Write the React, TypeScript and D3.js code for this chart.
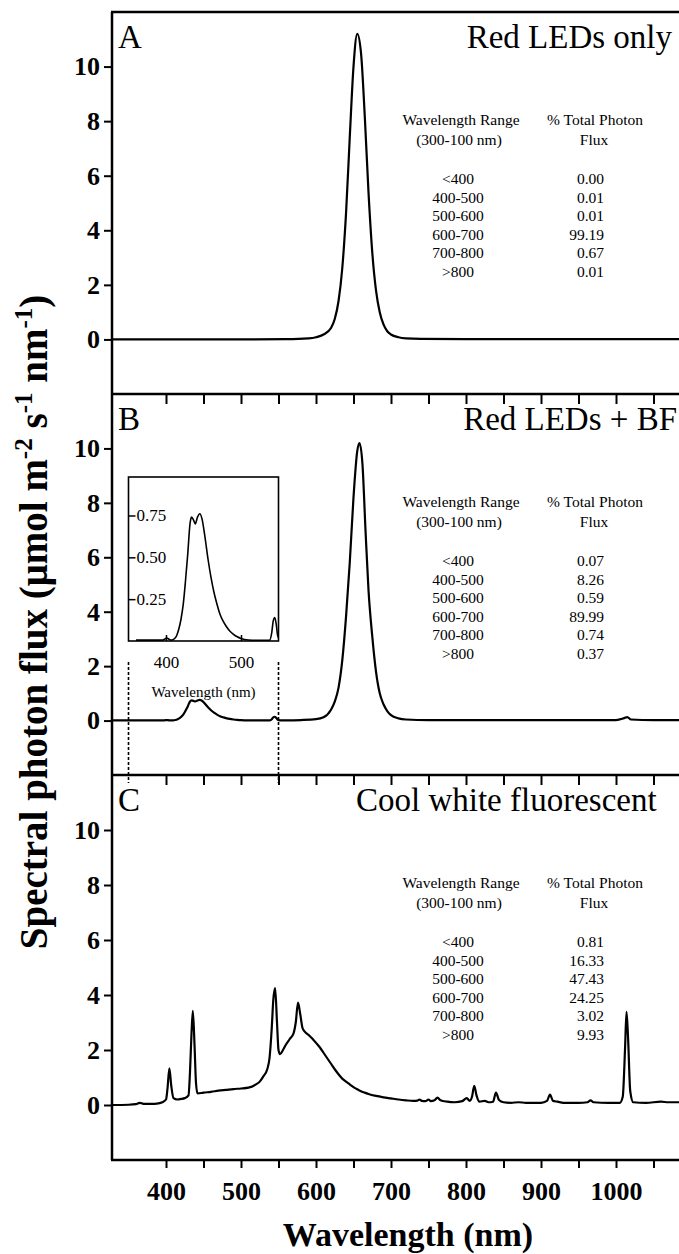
import React, { useEffect, useRef } from 'react';
import * as d3 from 'd3';

type Pt = [number, number];

// [wavelength (nm), spectral photon flux]
const redOnlySpectrum: Pt[] = [
  [328, 0], [400, 0], [500, 0], [560, 0.01], [590, 0.04], [600, 0.08], [610, 0.18],
  [620, 0.42], [625, 0.75], [630, 1.4], [635, 2.6], [640, 4.6], [645, 7.4], [650, 10.0],
  [655, 11.2], [660, 10.5], [665, 8.2], [670, 5.4], [675, 3.2], [680, 1.8], [685, 1.0],
  [690, 0.55], [695, 0.3], [700, 0.18], [710, 0.08], [720, 0.04], [740, 0.02], [800, 0.01],
  [900, 0.01], [1000, 0.01], [1100, 0.01],
];

const redBfSpectrum: Pt[] = [
  [328, 0.005], [360, 0.005], [380, 0.005], [395, 0.005], [398, 0.01], [401, 0.018], [404, 0.01],
  [407, 0.005], [410, 0.01], [414, 0.03], [417, 0.07], [420, 0.13], [423, 0.22], [426, 0.36],
  [429, 0.52], [432, 0.70], [434, 0.74], [437, 0.72], [439, 0.70], [442, 0.74], [445, 0.76],
  [448, 0.73], [452, 0.62], [456, 0.49], [460, 0.38], [464, 0.29], [468, 0.22], [472, 0.16],
  [476, 0.12], [480, 0.09], [485, 0.06], [490, 0.04], [495, 0.025], [500, 0.015], [510, 0.006],
  [520, 0.004], [538, 0.004], [541, 0.05], [543, 0.12], [545, 0.14], [547, 0.1], [549, 0.03],
  [552, 0.01], [560, 0.01], [580, 0.02], [600, 0.05], [610, 0.12], [620, 0.4], [625, 0.7],
  [630, 1.2], [635, 2.2], [640, 3.8], [645, 5.8], [650, 8.2], [655, 9.9], [658, 10.2],
  [662, 9.4], [666, 7.0], [670, 4.8], [675, 3.1], [680, 1.8], [685, 1.0], [690, 0.6],
  [695, 0.35], [700, 0.2], [710, 0.08], [720, 0.04], [750, 0.02], [800, 0.02], [900, 0.02],
  [1000, 0.02], [1010, 0.08], [1015, 0.13], [1020, 0.04], [1050, 0.02], [1100, 0.02],
];

const coolWhiteSpectrum: Pt[] = [
  [328, 0], [350, 0.01], [360, 0.03], [365, 0.08], [370, 0.04], [380, 0.04], [390, 0.06],
  [395, 0.1], [400, 0.2], [402, 0.6], [404.5, 1.33], [407, 0.7], [410, 0.25], [415, 0.2],
  [420, 0.22], [425, 0.25], [430, 0.35], [432, 1.2], [434, 2.6], [435.8, 3.42], [438, 2.2],
  [440, 0.8], [442, 0.42], [450, 0.45], [460, 0.48], [470, 0.52], [480, 0.55], [490, 0.58],
  [500, 0.6], [510, 0.63], [520, 0.75], [525, 0.85], [530, 1.05], [535, 1.3], [538, 1.7],
  [541, 2.8], [543, 3.8], [545.5, 4.25], [548, 3.0], [550, 2.0], [552, 1.85], [556, 2.0],
  [560, 2.2], [565, 2.4], [570, 2.6], [573, 3.0], [576, 3.72], [579, 3.3], [582, 2.8],
  [585, 2.67], [590, 2.55], [595, 2.42], [600, 2.26], [605, 2.1], [610, 1.9], [615, 1.7],
  [620, 1.5], [625, 1.3], [630, 1.12], [635, 0.96], [640, 0.85], [645, 0.75], [650, 0.65],
  [655, 0.57], [660, 0.5], [665, 0.45], [670, 0.4], [680, 0.33], [690, 0.28], [700, 0.24],
  [710, 0.2], [720, 0.17], [730, 0.15], [735, 0.16], [738, 0.2], [741, 0.15], [746, 0.14],
  [750, 0.2], [753, 0.14], [758, 0.17], [762, 0.27], [766, 0.17], [775, 0.12], [785, 0.1],
  [795, 0.14], [801, 0.25], [805, 0.15], [808, 0.3], [811, 0.7], [814, 0.35], [818, 0.12],
  [825, 0.15], [830, 0.1], [836, 0.12], [840, 0.45], [844, 0.18], [850, 0.1], [860, 0.08],
  [870, 0.1], [880, 0.08], [900, 0.08], [908, 0.15], [912, 0.38], [916, 0.15], [922, 0.12],
  [930, 0.08], [950, 0.08], [962, 0.1], [966, 0.17], [970, 0.1], [990, 0.08], [1005, 0.08],
  [1009, 0.3], [1012, 2.0], [1014, 3.39], [1016, 2.5], [1019, 0.5], [1023, 0.1], [1040, 0.08],
  [1060, 0.12], [1070, 0.1], [1100, 0.1],
];

// table contents
const rangeLabels = ['<400', '400-500', '500-600', '600-700', '700-800', '>800'];
const pctRedOnly = ['0.00', '0.01', '0.01', '99.19', '0.67', '0.01'];
const pctRedBf = ['0.07', '8.26', '0.59', '89.99', '0.74', '0.37'];
const pctCoolWhite = ['0.81', '16.33', '47.43', '24.25', '3.02', '9.93'];

const panelLetters = ['A', 'B', 'C'];
const panelTitles = ['Red LEDs only', 'Red LEDs + BF', 'Cool white fluorescent'];

const yTickValues = [0, 2, 4, 6, 8, 10];
const xTickValues = [400, 450, 500, 550, 600, 650, 700, 750, 800, 850, 900, 950, 1000, 1050, 1100];
const xLabelValues = [400, 500, 600, 700, 800, 900, 1000];
const insetYTicks = [0.25, 0.5, 0.75];
const insetXTicks = [400, 500];

// layout
const W = 679;
const H = 1254;
const plotLeft = 112;
const plotRight = 700;
const panelTops = [12, 394, 775];
const panelBottoms = [394, 775, 1160];
const titleX = [672, 677, 356];
const titleAnchor = ['end', 'end', 'start'];
const serif = '"Liberation Serif", "Times New Roman", serif';

const App = () => {
  const svgRef = useRef(null);

  useEffect(() => {
    const svg = d3.select(svgRef.current);
    svg.selectAll('*').remove();

    svg.append('rect').attr('width', W).attr('height', H).attr('fill', 'white');

    const x = d3.scaleLinear().domain([328, 1100]).range([plotLeft, 691]);
    const defs = svg.append('defs');

    const spectra = [redOnlySpectrum, redBfSpectrum, coolWhiteSpectrum];
    const pcts = [pctRedOnly, pctRedBf, pctCoolWhite];

    panelTops.forEach((top, i) => {
      const bottom = panelBottoms[i];
      const y = d3.scaleLinear().domain([-2, 12]).range([bottom, top]);

      defs.append('clipPath').attr('id', `clip${i}`)
        .append('rect')
        .attr('x', plotLeft).attr('y', top)
        .attr('width', plotRight - plotLeft).attr('height', bottom - top);

      const line = d3.line<Pt>()
        .x(d => x(d[0]))
        .y(d => y(d[1]))
        .curve(d3.curveMonotoneX);

      svg.append('path')
        .datum(spectra[i])
        .attr('d', line)
        .attr('fill', 'none')
        .attr('stroke', 'black')
        .attr('stroke-width', 2.2)
        .attr('stroke-linejoin', 'round')
        .attr('clip-path', `url(#clip${i})`);

      // y axis ticks + labels
      const yAxis = d3.axisLeft(y).tickValues(yTickValues).tickSize(8).tickPadding(4);
      svg.append('g')
        .attr('transform', `translate(${plotLeft},0)`)
        .call(yAxis)
        .call(g => g.select('.domain').remove())
        .attr('font-family', serif)
        .attr('font-size', 26)
        .attr('font-weight', 'bold')
        .call(g => g.selectAll('line').attr('stroke-width', 2))
        .call(g => g.selectAll('text').attr('fill', 'black'));

      // ticks on the top edge of panels B and C
      if (i > 0) {
        svg.append('g')
          .attr('transform', `translate(0,${top})`)
          .call(d3.axisBottom(x).tickValues(xTickValues).tickSize(10).tickFormat(() => ''))
          .call(g => g.select('.domain').remove())
          .call(g => g.selectAll('line').attr('stroke-width', 2));
      }

      // panel letter + title
      svg.append('text')
        .attr('x', 118).attr('y', top + 36)
        .attr('font-family', serif).attr('font-size', 33)
        .text(panelLetters[i]);
      svg.append('text')
        .attr('x', titleX[i]).attr('y', top + 36)
        .attr('text-anchor', titleAnchor[i])
        .attr('font-family', serif).attr('font-size', 33)
        .text(panelTitles[i]);

      // percentage table
      const tg = svg.append('g')
        .attr('font-family', serif)
        .attr('font-size', 15.5)
        .attr('fill', 'black');
      tg.append('text').attr('x', 461).attr('y', top + 113).attr('text-anchor', 'middle').text('Wavelength Range');
      tg.append('text').attr('x', 459).attr('y', top + 133).attr('text-anchor', 'middle').text('(300-100 nm)');
      tg.append('text').attr('x', 595).attr('y', top + 113).attr('text-anchor', 'middle').text('% Total Photon');
      tg.append('text').attr('x', 594).attr('y', top + 133).attr('text-anchor', 'middle').text('Flux');
      rangeLabels.forEach((r, j) => {
        const ty = top + 172 + j * 18.6;
        tg.append('text').attr('x', 458).attr('y', ty).attr('text-anchor', 'middle').text(r);
        tg.append('text').attr('x', 604).attr('y', ty).attr('text-anchor', 'end').text(pcts[i][j]);
      });

      // inset in panel B
      if (i === 1) {
        const ix = d3.scaleLinear().domain([350, 550]).range([x(350), x(550)]);
        const iy = d3.scaleLinear().domain([0, 0.98]).range([641, 477]);

        svg.append('rect')
          .attr('x', ix(350)).attr('y', iy(0.98))
          .attr('width', ix(550) - ix(350)).attr('height', iy(0) - iy(0.98))
          .attr('fill', 'white').attr('stroke', 'black').attr('stroke-width', 1.6);

        defs.append('clipPath').attr('id', 'clipInset')
          .append('rect')
          .attr('x', ix(350)).attr('y', iy(0.98))
          .attr('width', ix(550) - ix(350)).attr('height', iy(0) - iy(0.98));

        const insetLine = d3.line<Pt>()
          .x(d => ix(d[0]))
          .y(d => iy(d[1]))
          .curve(d3.curveMonotoneX);

        svg.append('path')
          .datum(redBfSpectrum.filter(d => d[0] >= 340 && d[0] <= 560))
          .attr('d', insetLine)
          .attr('fill', 'none')
          .attr('stroke', 'black')
          .attr('stroke-width', 1.6)
          .attr('clip-path', 'url(#clipInset)');

        svg.append('g')
          .attr('transform', `translate(${ix(350)},0)`)
          .call(d3.axisRight(iy).tickValues(insetYTicks).tickSize(7).tickPadding(1).tickFormat(d3.format('.2f')))
          .call(g => g.select('.domain').remove())
          .attr('font-family', serif)
          .attr('font-size', 17)
          .call(g => g.selectAll('line').attr('stroke-width', 1.5))
          .call(g => g.selectAll('text').attr('fill', 'black'));

        svg.append('g')
          .attr('transform', `translate(0,${iy(0)})`)
          .call(d3.axisBottom(ix).tickValues(insetXTicks).tickSizeInner(-6).tickSizeOuter(0).tickPadding(15).tickFormat(d3.format('d')))
          .call(g => g.select('.domain').remove())
          .attr('font-family', serif)
          .attr('font-size', 17)
          .call(g => g.selectAll('line').attr('stroke-width', 1.5))
          .call(g => g.selectAll('text').attr('fill', 'black'));

        svg.append('text')
          .attr('x', (ix(350) + ix(550)) / 2).attr('y', 697)
          .attr('text-anchor', 'middle')
          .attr('font-family', serif).attr('font-size', 15)
          .text('Wavelength (nm)');

        // dashed guides marking the inset range
        [350, 550].forEach(w => {
          svg.append('line')
            .attr('x1', x(w)).attr('x2', x(w))
            .attr('y1', 662).attr('y2', 783)
            .attr('stroke', 'black').attr('stroke-width', 1.6)
            .attr('stroke-dasharray', '3,2');
        });
      }
    });

    // frame
    const frame = svg.append('g').attr('stroke', 'black').attr('stroke-width', 2.5);
    frame.append('line').attr('x1', plotLeft).attr('x2', plotLeft).attr('y1', panelTops[0]).attr('y2', panelBottoms[2]);
    [panelTops[0], panelTops[1], panelTops[2], panelBottoms[2]].forEach(yy => {
      frame.append('line').attr('x1', plotLeft - 1).attr('x2', plotRight).attr('y1', yy).attr('y2', yy);
    });

    // bottom x axis
    svg.append('g')
      .attr('transform', `translate(0,${panelBottoms[2]})`)
      .call(d3.axisBottom(x).tickValues(xTickValues).tickSize(8).tickPadding(14)
        .tickFormat(d => (xLabelValues.includes(d as number) ? String(d) : '')))
      .call(g => g.select('.domain').remove())
      .attr('font-family', serif)
      .attr('font-size', 26)
      .attr('font-weight', 'bold')
      .call(g => g.selectAll('line').attr('stroke-width', 2))
      .call(g => g.selectAll('text').attr('fill', 'black'));

    svg.append('text')
      .attr('x', 408).attr('y', 1246)
      .attr('text-anchor', 'middle')
      .attr('font-family', serif).attr('font-size', 34).attr('font-weight', 'bold')
      .text('Wavelength (nm)');

    // y axis title with superscripts
    const yt = svg.append('text')
      .attr('transform', 'translate(47,622) rotate(-90)')
      .attr('text-anchor', 'middle')
      .attr('font-family', serif).attr('font-size', 39).attr('font-weight', 'bold');
    yt.append('tspan').text('Spectral photon flux (\u03bcmol m');
    yt.append('tspan').attr('dy', -15).attr('font-size', 25).text('-2');
    yt.append('tspan').attr('dy', 15).text(' s');
    yt.append('tspan').attr('dy', -15).attr('font-size', 25).text('-1');
    yt.append('tspan').attr('dy', 15).text(' nm');
    yt.append('tspan').attr('dy', -15).attr('font-size', 25).text('-1');
    yt.append('tspan').attr('dy', 15).text(')');
  }, []);

  return (
    <svg
      ref={svgRef}
      width={W}
      height={H}
      style={{ position: 'absolute', left: 0, top: 0, display: 'block' }}
    />
  );
};

export default App;
